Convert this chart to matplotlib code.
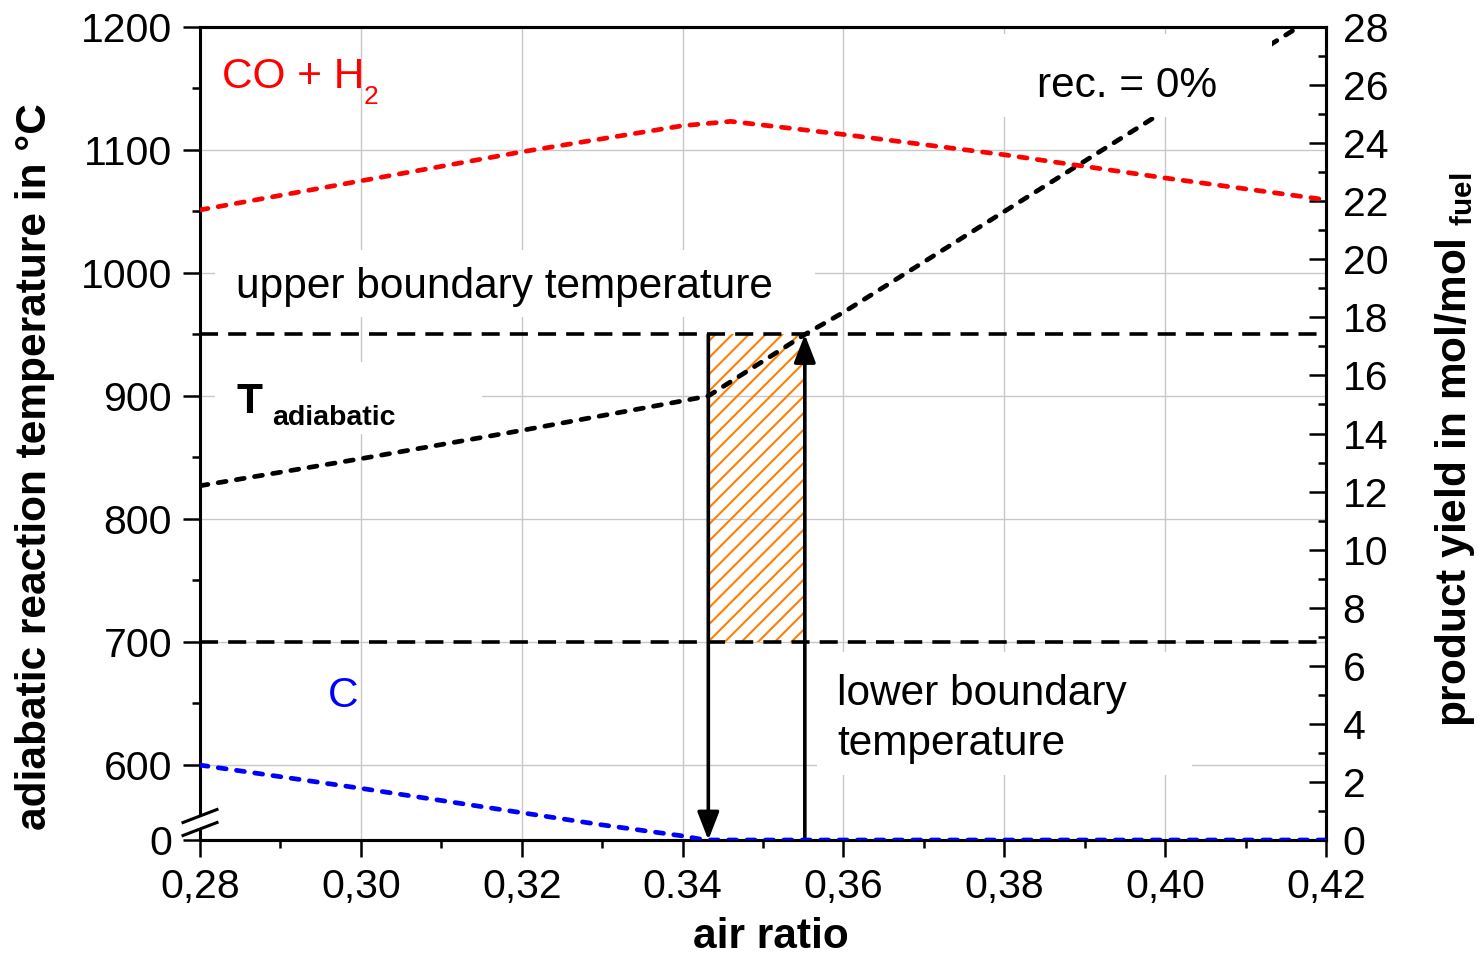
import matplotlib
matplotlib.use("Agg")
import matplotlib.pyplot as plt
from matplotlib.patches import Rectangle, Polygon

# --- data ---------------------------------------------------------------------
# adiabatic temperature (left axis, degC) over air ratio, recirculation = 0 %
air_ratio_t = [0.28, 0.30, 0.32, 0.34, 0.3432, 0.3552, 0.36, 0.38, 0.40, 0.42]
t_adiabatic = [827, 849, 872, 896, 900, 950, 968, 1050, 1132, 1214]

# product yields (right axis, mol/mol_fuel)
air_ratio_co = [0.28, 0.30, 0.32, 0.34, 0.346, 0.36, 0.38, 0.40, 0.42]
yield_co_h2 = [21.7, 22.7, 23.7, 24.6, 24.75, 24.3, 23.6, 22.8, 22.05]

air_ratio_c = [0.28, 0.30, 0.32, 0.33, 0.34, 0.3428, 0.36, 0.38, 0.40, 0.42]
yield_c = [2.58, 1.78, 0.94, 0.52, 0.14, 0.0, 0.0, 0.0, 0.0, 0.0]

upper_boundary = 950
lower_boundary = 700
window = [0.3432, 0.3552]  # air ratios where T_adiabatic meets the boundaries

x_ticks = [0.28, 0.30, 0.32, 0.34, 0.36, 0.38, 0.40, 0.42]
x_tick_labels = ["0,28", "0,30", "0,32", "0.34", "0,36", "0,38", "0,40", "0,42"]
t_bottom = 539  # broken axis: the bottom is labelled 0
t_ticks = [t_bottom, 600, 700, 800, 900, 1000, 1100, 1200]
t_tick_labels = ["0", "600", "700", "800", "900", "1000", "1100", "1200"]
yield_ticks = list(range(0, 29, 2))

plt.rcParams["font.family"] = ["Liberation Sans", "DejaVu Sans"]
plt.rcParams["mathtext.fontset"] = "custom"
plt.rcParams["mathtext.rm"] = "Liberation Sans"
plt.rcParams["mathtext.bf"] = "Liberation Sans:bold"
plt.rcParams["hatch.linewidth"] = 1.5

FS = 30.5
TICK_FS = 29.5
DOTTED = dict(lw=3.4, dashes=(1.7, 2.2), dash_capstyle="round")
BOUNDARY = dict(color="black", lw=2.6, dashes=(5, 2.8), zorder=2)
ORANGE = "#ff8000"


def white_box(ax, x0, x1, y0, y1):
    ax.add_patch(Rectangle((x0, y0), x1 - x0, y1 - y0, facecolor="white",
                           edgecolor="none", zorder=5))


def axis_break(ax):
    # two slanted strokes across the left spine with a white gap between them
    w, h = 17 / 1126, 6.5 / 813
    y_hi, y_lo = 24 / 813, 11 / 813
    gap = Polygon([(-w, y_lo - h), (w, y_lo + h), (w, y_hi + h), (-w, y_hi - h)],
                  closed=True, transform=ax.transAxes, facecolor="white",
                  edgecolor="none", clip_on=False, zorder=10)
    ax.add_patch(gap)
    for yc in (y_hi, y_lo):
        ax.plot([-w, w], [yc - h, yc + h], color="black", lw=2.2,
                transform=ax.transAxes, clip_on=False, zorder=11)


def main() -> None:
    fig = plt.figure(figsize=(14.79, 9.58), dpi=100)
    ax = fig.add_axes([200 / 1479, 118 / 958, 1126 / 1479, 813 / 958])
    ax2 = ax.twinx()

    ax.set_xlim(0.28, 0.42)
    ax.set_ylim(t_bottom, 1200)
    ax2.set_ylim(0, 28)

    ax.set_xticks(x_ticks)
    ax.set_xticklabels(x_tick_labels)
    ax.set_xticks([0.29, 0.31, 0.33, 0.35, 0.37, 0.39, 0.41], minor=True)
    ax.set_yticks(t_ticks)
    ax.set_yticklabels(t_tick_labels)
    ax.set_yticks([650, 750, 850, 950, 1050, 1150], minor=True)
    ax2.set_yticks(yield_ticks)
    ax2.set_yticks(list(range(1, 28, 2)), minor=True)

    ax.grid(True, which="major", color="#c8c8c8", lw=1.0)
    ax.set_axisbelow(True)

    for a in (ax, ax2):
        for s in a.spines.values():
            s.set_linewidth(2.2)
    ax2.spines["left"].set_visible(False)

    ax.tick_params(which="major", direction="out", length=12, width=1.8,
                   labelsize=TICK_FS, top=False, right=False)
    ax.tick_params(which="minor", direction="out", length=6, width=1.8,
                   top=False, right=False)
    ax.tick_params(axis="x", pad=8)
    ax.tick_params(axis="y", pad=8)
    ax2.tick_params(which="major", direction="in", length=12, width=1.8,
                    labelsize=TICK_FS, pad=12)
    ax2.tick_params(which="minor", direction="in", length=6, width=1.8)

    # operating window
    ax.add_patch(Rectangle((window[0], lower_boundary), window[1] - window[0],
                           upper_boundary - lower_boundary, facecolor="none",
                           edgecolor=ORANGE, hatch="//", lw=0, zorder=1.5))
    ax.axhline(upper_boundary, **BOUNDARY)
    ax.axhline(lower_boundary, **BOUNDARY)

    ax.plot(air_ratio_t, t_adiabatic, color="black", zorder=3, **DOTTED)
    ax2.plot(air_ratio_co, yield_co_h2, color="red", zorder=3, **DOTTED)
    ax2.plot(air_ratio_c, yield_c, color="blue", zorder=3, **DOTTED)

    arrow = dict(arrowstyle="-|>,head_length=0.85,head_width=0.33",
                 mutation_scale=20, lw=2.6, color="black", shrinkA=0, shrinkB=0)
    ax.annotate("", xy=(window[0], t_bottom), xytext=(window[0], upper_boundary),
                arrowprops=arrow, zorder=4)
    ax.annotate("", xy=(window[1], upper_boundary), xytext=(window[1], t_bottom),
                arrowprops=arrow, zorder=4)

    # label boxes that blank out grid lines
    white_box(ax, 0.28187, 0.35648, 964, 1019)
    white_box(ax, 0.28187, 0.31506, 869, 928)
    white_box(ax, 0.35671, 0.40334, 592, 692)
    white_box(ax, 0.3795, 0.4133, 1127, 1194)

    ax.text(0.2827, 1150, "CO + H", color="red", fontsize=FS,
            va="baseline", zorder=6)
    ax.text(0.3004, 1137.5, "2", color="red", fontsize=19,
            va="baseline", zorder=6)
    ax.text(0.2845, 980, "upper boundary temperature", fontsize=FS,
            va="baseline", zorder=6)
    ax.text(0.2846, 886, "T", fontsize=FS, fontweight="bold",
            va="baseline", zorder=6)
    ax.text(0.28895, 876.5, "adiabatic", fontsize=20.5, fontweight="bold",
            va="baseline", zorder=6)
    ax.text(0.3841, 1143, "rec. = 0%", fontsize=FS, va="baseline", zorder=6)
    ax.text(0.3592, 649, "lower boundary", fontsize=FS, va="baseline", zorder=6)
    ax.text(0.3592, 608, "temperature", fontsize=FS, va="baseline", zorder=6)
    ax.text(0.2959, 647, "C", color="blue", fontsize=FS, va="baseline",
            zorder=6)

    axis_break(ax)

    fig.text(771 / 1479, 1 - 937 / 958, "air ratio", fontsize=FS,
             fontweight="bold", ha="center", va="center")
    fig.text(35 / 1479, 1 - 467 / 958, "adiabatic reaction temperature in °C",
             fontsize=FS, fontweight="bold", ha="center", va="center",
             rotation=90)
    fig.text(1455 / 1479, 1 - 450 / 958,
             r"product yield in mol/mol $_{\mathbf{fuel}}$",
             fontsize=FS, fontweight="bold", ha="center", va="center",
             rotation=90)

    fig.savefig("out.png", dpi=100)


if __name__ == "__main__":
    main()
